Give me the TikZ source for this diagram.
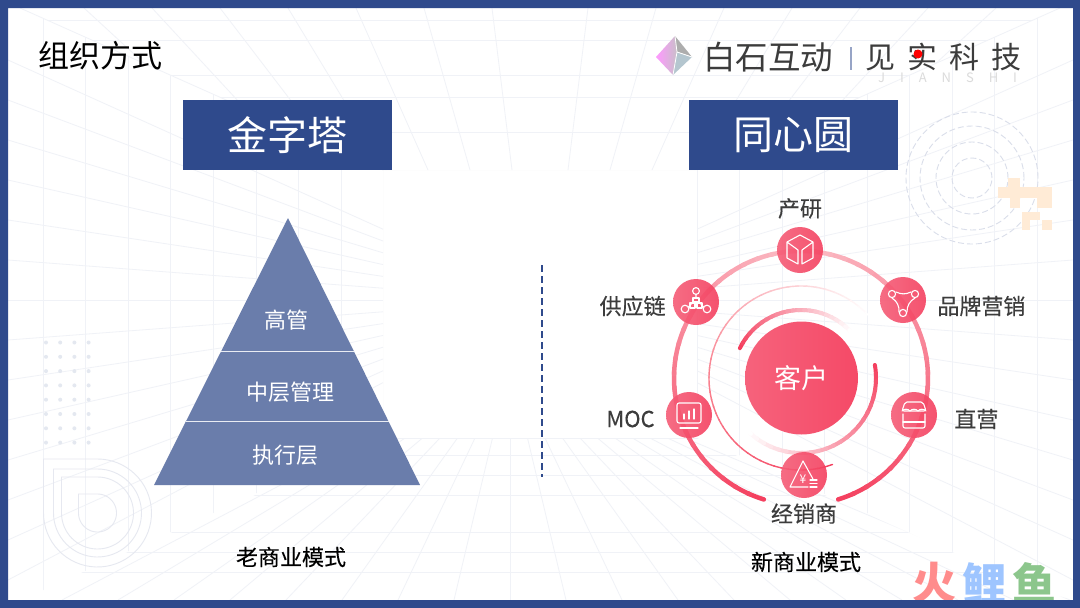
\documentclass[tikz,border=0pt]{standalone}
\usepackage{fontspec}
\setmainfont{Noto Sans CJK SC}
\usetikzlibrary{positioning}
\definecolor{frame_blue}{HTML}{2F4A8C}
\definecolor{pyr_blue}{HTML}{6A7DAB}
\definecolor{grid_gray}{HTML}{F0F2F7}
\definecolor{deco_gray}{HTML}{E6E8F0}
\definecolor{rose}{HTML}{F4405F}
\definecolor{rose_mid}{HTML}{F9818F}
\definecolor{rose_light}{HTML}{FBBAC3}
\definecolor{label_gray}{HTML}{3C3C3C}
\tikzstyle{title_box} = [
    white,
    fill=frame_blue,
    align=center,
    minimum width=209pt,
    minimum height=70pt,
    font=\fontsize{40}{46}\selectfont
]
\tikzstyle{pyr_text} = [
    white,
    inner sep=0pt,
    font=\fontsize{22}{26}\selectfont
]
\tikzstyle{mode_text} = [
    black,
    inner sep=0pt,
    font=\fontsize{22}{26}\selectfont\addfontfeature{FakeBold=.2}
]
\tikzstyle{ring_text} = [
    label_gray,
    inner sep=0pt,
    font=\fontsize{22}{26}\selectfont\addfontfeature{FakeBold=.3}
]
\tikzstyle{red_node} = [
    circle,
    left color=rose!85!white,
    right color=rose,
    fill opacity=.9,
    draw=none,
    inner sep=0pt,
    minimum size=46pt
]
\tikzstyle{center_node} = [
    circle,
    white,
    left color=rose!82!white,
    right color=rose!95!white,
    inner sep=0pt,
    minimum size=113pt,
    font=\fontsize{27}{32}\selectfont
]
\tikzstyle{icon} = [
    white,
    line width=1.1pt,
    line join=round,
    line cap=round
]
\tikzstyle{wm_text} = [
    inner sep=0pt,
    font=\fontsize{44}{50}\selectfont\bfseries
]
% radius, start angle, end angle, width, first colour, last colour
\newcommand{\fadearc}[6]{
    \foreach \i in {1,...,24} {
        \pgfmathsetmacro{\angA}{#2+(#3-#2)*(\i-1)/24}
        \pgfmathsetmacro{\angB}{#2+(#3-#2)*(\i+.15)/24}
        \pgfmathtruncatemacro{\mixp}{100-100*(\i-1)/23}
        \draw[line width=#4, line cap=round, color=#5!\mixp!#6]
            plot[domain=\angA:\angB, samples=5] ({801+#1*cos(\x)},{378-#1*sin(\x)});
    }
}
\begin{document}
\begin{tikzpicture}[x=1pt, y=-1pt]
\useasboundingbox (0,0) rectangle (1080,608);
\fill[white] (0,0) rectangle (1080,608);

% ceiling
\begin{scope}[grid_gray, line width=.8pt]
\clip (20,8) -- (383,170) -- (697,170) -- (1060,8) -- cycle;
\foreach \k in {0,...,7} {
    \draw (492-68*\k,8) -- (512-42*\k,170);
    \draw (588+68*\k,8) -- (568+42*\k,170);
}
\foreach \yy in {20,40,75,97,132,170} \draw (8,\yy) -- (1073,\yy);
\end{scope}
\draw[grid_gray, line width=.8pt] (20,8) -- (383,170);
\draw[grid_gray, line width=.8pt] (1060,8) -- (697,170);

% walls
\begin{scope}[grid_gray, line width=.8pt]
\begin{scope}
\clip (8,8) -- (20,8) -- (383,170) -- (383,436) -- (43,590) -- (8,600) -- cycle;
\foreach \i in {0,...,8} \draw (43+42.6*\i,8) -- (43+42.6*\i,600);
\foreach \k in {-6,...,7} \draw (8,300+40*\k) -- (383,300+11.8*\k);
\end{scope}
\begin{scope}
\clip (1073,8) -- (1060,8) -- (697,170) -- (697,436) -- (1037,590) -- (1073,600) -- cycle;
\foreach \i in {0,...,8} \draw (697+42.5*\i,8) -- (697+42.5*\i,600);
\foreach \k in {-6,...,7} \draw (1073,300+40*\k) -- (697,300+11.8*\k);
\end{scope}
% floor
\begin{scope}
\clip (383,438) -- (697,438) -- (1037,590) -- (1073,600) -- (8,600) -- (43,590) -- cycle;
\foreach \k in {-30,...,34} \draw (510+17.5*\k,438) -- (510+56*\k,600);
\foreach \yy in {438,455,475,495,532,552,572} \draw (8,\yy) -- (1073,\yy);
\end{scope}
\end{scope}

% background marks
\foreach \i in {0,...,3}
    \foreach \j in {0,...,7}
        \fill[frame_blue!13] (46+14.2*\i,342.5+14.3*\j) circle (2pt);
\foreach \rr in {19,36,44,54}
    \draw[deco_gray, line width=.9pt] plot[domain=90:-180, samples=50] ({97.5+\rr*cos(\x)},{513-\rr*sin(\x)})
        -- (97.5-\rr,513-\rr) -- cycle;
\foreach \rr in {20,36,52,66}
    \draw[frame_blue!18, line width=.9pt, dash pattern=on 6pt off 3pt] (972,178) circle (\rr pt);
\begin{scope}[orange!16!white]
\fill (1008,178) rectangle (1020,187);
\fill (998,187) rectangle (1052,198);
\fill (1010,198) rectangle (1020,208);
\fill (1037,198) rectangle (1052,208);
\fill (1022,212) rectangle (1040,220);
\fill (1022,220) rectangle (1030,230);
\fill (1042,220) rectangle (1052,230);
\end{scope}

% watermark
\node[wm_text, color=red!45!white] (wm_fire) at (934,583) {火};
\node[wm_text, color=blue!60!cyan!38!white] (wm_carp) at (984,583) {鲤};
\node[wm_text, color=green!50!black!45!white] (wm_fish) at (1034,583) {鱼};

% frame
\fill[frame_blue, even odd rule] (0,0) rectangle (1080,608) (8,8) rectangle (1073,600);

% header
\node[inner sep=0pt, anchor=west, font=\fontsize{31}{36}\selectfont] (page_title) at (38,56) {组织方式};
\coordinate (gem_l) at (656,57);
\coordinate (gem_t) at (675,36);
\coordinate (gem_r) at (692,57);
\coordinate (gem_b) at (673,75);
\coordinate (gem_c) at (677,52);
\fill[red!50!blue!0!white, left color=magenta!40!white, right color=magenta!15!black!25!white] (gem_l) -- (gem_t) -- (gem_c) -- (gem_b) -- cycle;
\fill[black!32!white] (gem_t) -- (gem_r) -- (gem_c) -- cycle;
\fill[cyan!40!black!35!white] (gem_r) -- (gem_b) -- (gem_c) -- cycle;
\draw[white, line width=.8pt] (gem_t) -- (gem_c) -- (gem_r) (gem_c) -- (gem_b);
\node[inner sep=0pt, anchor=west, label_gray, font=\fontsize{32.5}{38}\selectfont] (logo_a) at (703,57) {白石互动};
\coordinate (sep_t) at (851,47);
\coordinate (sep_b) at (851,70);
\draw[frame_blue!50, line width=1.2pt] (sep_t) -- (sep_b);
\node[inner sep=0pt, anchor=west, label_gray, font=\fontsize{30}{36}\selectfont\addfontfeature{LetterSpace=40}] (logo_b) at (865,57) {见实科技};
\fill[red] (918,54) circle (4.5pt);
\node[inner sep=0pt, anchor=west, black!14, font=\fontsize{13}{15}\selectfont\addfontfeature{LetterSpace=115}] (logo_c) at (878,78) {JIANSHI};

\node[title_box] (box_pyr) at (287.5,135) {金字塔};
\node[title_box] (box_ring) at (793,135) {同心圆};

% pyramid
\coordinate (pyr_top) at (288,218);
\coordinate (pyr_l) at (154,485);
\coordinate (pyr_r) at (420,485);
\coordinate (cut_al) at (221.3,351.5);
\coordinate (cut_ar) at (354,351.5);
\coordinate (cut_bl) at (186,421);
\coordinate (cut_br) at (388.5,421);
\fill[pyr_blue] (pyr_top) -- (pyr_r) -- (pyr_l) -- cycle;
\draw[white!85!pyr_blue, line width=1pt] (cut_al) -- (cut_ar);
\draw[white!85!pyr_blue, line width=1pt] (cut_bl) -- (cut_br);
\node[pyr_text] (pyr_high) at (286,320) {高管};
\node[pyr_text] (pyr_mid) at (290,392) {中层管理};
\node[pyr_text] (pyr_low) at (285,455) {执行层};
\node[mode_text] (mode_old) at (291,557) {老商业模式};

% divider
\coordinate (div_t) at (542,265);
\coordinate (div_b) at (542,477);
\draw[frame_blue, line width=1.2pt, dash pattern=on 7pt off 4pt] (div_t) -- (div_b);

% rings
\fadearc{127}{-73}{90}{4.5pt}{rose}{rose_light}
\fadearc{127}{253}{90}{4.5pt}{rose}{rose_light}
\fadearc{92}{-70}{-180}{1.4pt}{rose}{rose_mid}
\fadearc{92}{180}{40}{1.4pt}{rose_mid}{white}
\fadearc{68}{154}{40}{4pt}{rose}{white}
\fadearc{75}{10}{-138}{4pt}{rose}{white}

\node[center_node] (customer) at (801.5,378) {客户};
\node[red_node] (yanfa) at (800,250) {};
\node[red_node] (brand) at (903,300) {};
\node[red_node] (direct) at (914,415) {};
\node[red_node] (dealer) at (804,475) {};
\node[red_node] (moc) at (689,415) {};
\node[red_node] (supply) at (696,302) {};

\node[ring_text, above=10pt of yanfa, yshift=-2pt] (t_yanfa) {产研};
\node[ring_text, right=11pt of brand, yshift=-6pt] (t_brand) {品牌营销};
\node[ring_text, right=17pt of direct, yshift=-4pt] (t_direct) {直营};
\node[ring_text, below=4pt of dealer, yshift=-1pt] (t_dealer) {经销商};
\node[ring_text, left=11pt of moc, yshift=-4pt] (t_moc) {MOC};
\node[ring_text, left=7pt of supply, yshift=-4pt] (t_supply) {供应链};
\node[mode_text] (mode_new) at (806,562) {新商业模式};

% icons
\begin{scope}[icon, shift={(yanfa.center)}]
\draw (0,-15) -- (13,-8) -- (13,8) -- (2,14) -- (2,0) -- (13,-8);
\draw (0,-15) -- (-13,-8) -- (-13,8) -- (-2,14) -- (-2,0) -- (-13,-8);
\end{scope}
\begin{scope}[icon, shift={(brand.center)}]
\draw (-11,-6) circle (3.6pt) (12,-6) circle (3.6pt) (0,13) circle (3.6pt);
\draw (-7,-8) to[bend right=25] (8,-8);
\draw (-11,-2) to[bend left=30] (-4,12);
\draw (12,-2) to[bend right=30] (4,12);
\end{scope}
\begin{scope}[icon, shift={(direct.center)}]
\draw[rounded corners=2pt] (-9,-13) -- (9,-13) -- (12,-4) -- (-12,-4) -- cycle;
\draw (-12,-4) to[bend left=50] (-4,-4) to[bend left=50] (4,-4) to[bend left=50] (12,-4);
\draw[rounded corners=2pt] (-11,-1) -- (-11,13) -- (11,13) -- (11,-1);
\draw (-11,7) -- (11,7);
\end{scope}
\begin{scope}[icon, shift={(dealer.center)}]
\draw (-1,-14) -- (-14,12) -- (4,12);
\draw (-1,-14) -- (9,4);
\draw (6,5) -- (13,5) (6,8.5) -- (13,8.5) (6,12) -- (13,12);
\node[white, inner sep=0pt, font=\fontsize{12}{14}\selectfont] (yen_mark) at (-1,4) {¥};
\end{scope}
\begin{scope}[icon, shift={(moc.center)}]
\draw[rounded corners=2pt] (-12,-12) rectangle (12,8);
\draw (-5,4) -- (-5,-1) (0,4) -- (0,-4) (5,4) -- (5,-6);
\draw (-9,13) -- (9,13);
\end{scope}
\begin{scope}[icon, shift={(supply.center)}]
\draw (0,-11) circle (3.4pt) (-11,7) circle (3.8pt) (11,7) circle (3.8pt);
\draw (0,-7.5) -- (0,-4) (-7.5,5) -- (-3,0) (7.5,5) -- (3,0);
\draw (-3,-4) rectangle (3,0) (-6,1) rectangle (-1,6) (1,1) rectangle (6,6);
\end{scope}
\end{tikzpicture}
\end{document}
